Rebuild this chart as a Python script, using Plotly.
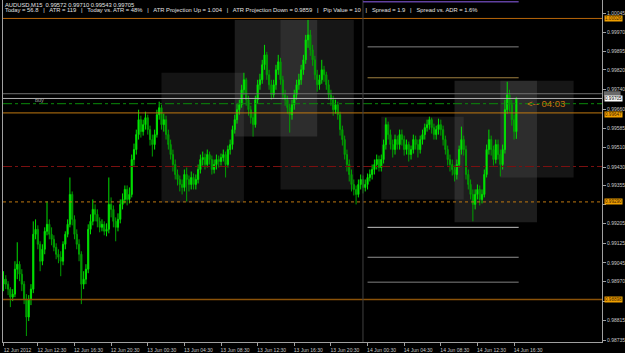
import plotly.graph_objects as go
import pandas as pd

symbol_header = "AUDUSD,M15  0.99572 0.99710 0.99543 0.99705"
info_line = ("Today = 56.8   |   ATR = 119   |   Today vs. ATR = 48%   |   ATR Projection Up = 1.004   |   "
             "ATR Projection Down = 0.9859   |   Pip Value = 10   |   Spread = 1.9   |   Spread vs. ADR = 1.6%")

first_bar = "2012-06-12 08:45"

open_ = [
0.98960,0.98980,0.98960,0.98940,0.98908,0.98920,0.99020,0.99040,0.99000,0.98960,
0.98900,0.98828,0.98900,0.98940,0.99160,0.99180,0.99120,0.99052,0.99100,0.99172,
0.99200,0.99160,0.99140,0.99108,0.99080,0.99068,0.99052,0.99120,0.99160,0.99200,
0.99320,0.99220,0.99160,0.99120,0.99080,0.98960,0.98980,0.99020,0.99180,0.99212,
0.99260,0.99240,0.99212,0.99188,0.99200,0.99172,0.99180,0.99280,0.99260,0.99212,
0.99188,0.99220,0.99280,0.99300,0.99340,0.99300,0.99320,0.99460,0.99500,0.99560,
0.99620,0.99572,0.99600,0.99628,0.99580,0.99540,0.99520,0.99560,0.99640,0.99668,
0.99600,0.99620,0.99560,0.99520,0.99480,0.99440,0.99400,0.99380,0.99360,0.99348,
0.99400,0.99380,0.99360,0.99388,0.99360,0.99380,0.99420,0.99460,0.99468,0.99440,
0.99480,0.99460,0.99420,0.99440,0.99460,0.99452,0.99468,0.99480,0.99440,0.99500,
0.99520,0.99580,0.99620,0.99660,0.99680,0.99740,0.99780,0.99700,0.99660,0.99628,
0.99600,0.99700,0.99760,0.99780,0.99840,0.99880,0.99800,0.99760,0.99720,0.99760,
0.99820,0.99852,0.99780,0.99720,0.99700,0.99668,0.99640,0.99680,0.99720,0.99760,
0.99780,0.99820,0.99860,0.99940,0.99960,0.99900,0.99860,0.99800,0.99760,0.99780,
0.99820,0.99800,0.99760,0.99720,0.99700,0.99660,0.99680,0.99640,0.99580,0.99540,
0.99480,0.99440,0.99400,0.99360,0.99340,0.99320,0.99360,0.99380,0.99348,0.99360,
0.99388,0.99400,0.99420,0.99440,0.99460,0.99428,0.99460,0.99520,0.99600,0.99560,
0.99520,0.99500,0.99540,0.99520,0.99560,0.99540,0.99500,0.99520,0.99480,0.99500,
0.99540,0.99520,0.99500,0.99540,0.99560,0.99588,0.99600,0.99620,0.99588,0.99560,
0.99580,0.99600,0.99580,0.99540,0.99500,0.99460,0.99440,0.99420,0.99400,0.99440,
0.99500,0.99540,0.99500,0.99400,0.99360,0.99320,0.99280,0.99320,0.99340,0.99300,
0.99320,0.99400,0.99500,0.99540,0.99500,0.99460,0.99520,0.99480,0.99440,0.99500,
0.99660,0.99720,0.99680,0.99620,0.99572]

high = [
0.99012,0.98996,0.98972,0.98948,0.98940,0.99052,0.99128,0.99052,0.99020,0.98972,
0.98920,0.98916,0.98960,0.99212,0.99220,0.99196,0.99132,0.99120,0.99188,0.99292,
0.99220,0.99188,0.99156,0.99124,0.99100,0.99092,0.99132,0.99172,0.99220,0.99388,
0.99332,0.99236,0.99180,0.99140,0.99092,0.99012,0.99040,0.99200,0.99240,0.99300,
0.99280,0.99260,0.99228,0.99220,0.99212,0.99204,0.99388,0.99308,0.99276,0.99228,
0.99244,0.99300,0.99324,0.99356,0.99356,0.99348,0.99480,0.99524,0.99580,0.99660,
0.99636,0.99620,0.99652,0.99640,0.99596,0.99560,0.99580,0.99660,0.99692,0.99680,
0.99644,0.99636,0.99580,0.99540,0.99500,0.99460,0.99420,0.99396,0.99380,0.99420,
0.99428,0.99396,0.99412,0.99404,0.99400,0.99440,0.99480,0.99492,0.99484,0.99500,
0.99492,0.99476,0.99460,0.99480,0.99476,0.99484,0.99500,0.99492,0.99516,0.99540,
0.99596,0.99640,0.99684,0.99700,0.99760,0.99808,0.99788,0.99716,0.99676,0.99644,
0.99716,0.99780,0.99804,0.99860,0.99920,0.99892,0.99820,0.99780,0.99780,0.99840,
0.99880,0.99868,0.99796,0.99740,0.99716,0.99684,0.99700,0.99740,0.99780,0.99804,
0.99840,0.99880,0.99960,1.00020,0.99980,0.99920,0.99876,0.99820,0.99800,0.99860,
0.99836,0.99812,0.99780,0.99740,0.99716,0.99700,0.99692,0.99652,0.99596,0.99556,
0.99500,0.99460,0.99420,0.99380,0.99356,0.99380,0.99400,0.99396,0.99380,0.99404,
0.99420,0.99440,0.99460,0.99480,0.99476,0.99480,0.99540,0.99628,0.99612,0.99580,
0.99540,0.99560,0.99556,0.99580,0.99580,0.99556,0.99540,0.99532,0.99516,0.99560,
0.99556,0.99540,0.99556,0.99580,0.99604,0.99620,0.99632,0.99628,0.99604,0.99596,
0.99624,0.99620,0.99596,0.99556,0.99516,0.99480,0.99460,0.99436,0.99460,0.99516,
0.99592,0.99556,0.99516,0.99420,0.99380,0.99340,0.99340,0.99360,0.99356,0.99340,
0.99420,0.99520,0.99580,0.99556,0.99516,0.99540,0.99540,0.99500,0.99520,0.99700,
0.99772,0.99740,0.99700,0.99640,0.99710]

low = [
0.98932,0.98940,0.98916,0.98868,0.98892,0.98908,0.98980,0.98972,0.98932,0.98880,
0.98752,0.98812,0.98876,0.98924,0.99140,0.99100,0.99012,0.99036,0.99080,0.99156,
0.99140,0.99116,0.99092,0.99060,0.99044,0.98992,0.99036,0.99100,0.99148,0.99188,
0.99196,0.99140,0.99100,0.99052,0.98880,0.98940,0.98960,0.99004,0.99160,0.99196,
0.99212,0.99188,0.99168,0.99172,0.99156,0.99152,0.99164,0.99228,0.99188,0.99132,
0.99172,0.99204,0.99260,0.99284,0.99276,0.99284,0.99308,0.99436,0.99480,0.99540,
0.99548,0.99556,0.99580,0.99560,0.99516,0.99472,0.99500,0.99548,0.99620,0.99580,
0.99572,0.99540,0.99500,0.99460,0.99412,0.99380,0.99356,0.99332,0.99320,0.99332,
0.99292,0.99332,0.99340,0.99340,0.99340,0.99364,0.99404,0.99436,0.99420,0.99428,
0.99440,0.99400,0.99404,0.99420,0.99428,0.99436,0.99452,0.99388,0.99428,0.99480,
0.99500,0.99564,0.99604,0.99640,0.99668,0.99720,0.99676,0.99636,0.99604,0.99552,
0.99588,0.99684,0.99740,0.99764,0.99820,0.99780,0.99740,0.99700,0.99708,0.99740,
0.99800,0.99760,0.99700,0.99676,0.99644,0.99568,0.99620,0.99660,0.99700,0.99740,
0.99760,0.99800,0.99844,0.99908,0.99876,0.99836,0.99780,0.99732,0.99740,0.99764,
0.99772,0.99740,0.99700,0.99676,0.99636,0.99644,0.99620,0.99556,0.99516,0.99460,
0.99412,0.99372,0.99332,0.99316,0.99280,0.99308,0.99340,0.99324,0.99332,0.99340,
0.99372,0.99380,0.99400,0.99420,0.99412,0.99412,0.99444,0.99500,0.99540,0.99500,
0.99468,0.99480,0.99500,0.99500,0.99516,0.99476,0.99480,0.99452,0.99460,0.99484,
0.99500,0.99468,0.99484,0.99520,0.99540,0.99572,0.99580,0.99564,0.99540,0.99540,
0.99560,0.99556,0.99516,0.99480,0.99436,0.99412,0.99396,0.99372,0.99380,0.99428,
0.99480,0.99476,0.99380,0.99340,0.99300,0.99212,0.99260,0.99300,0.99276,0.99284,
0.99308,0.99388,0.99480,0.99476,0.99436,0.99444,0.99460,0.99392,0.99420,0.99484,
0.99644,0.99652,0.99596,0.99540,0.99543]

close = [
0.98980,0.98960,0.98940,0.98908,0.98920,0.99020,0.99040,0.99000,0.98960,0.98900,
0.98828,0.98900,0.98940,0.99160,0.99180,0.99120,0.99052,0.99100,0.99172,0.99200,
0.99160,0.99140,0.99108,0.99080,0.99068,0.99052,0.99120,0.99160,0.99200,0.99320,
0.99220,0.99160,0.99120,0.99080,0.98960,0.98980,0.99020,0.99180,0.99212,0.99260,
0.99240,0.99212,0.99188,0.99200,0.99172,0.99180,0.99280,0.99260,0.99212,0.99188,
0.99220,0.99280,0.99300,0.99340,0.99300,0.99320,0.99460,0.99500,0.99560,0.99620,
0.99572,0.99600,0.99628,0.99580,0.99540,0.99520,0.99560,0.99640,0.99668,0.99600,
0.99620,0.99560,0.99520,0.99480,0.99440,0.99400,0.99380,0.99360,0.99348,0.99400,
0.99380,0.99360,0.99388,0.99360,0.99380,0.99420,0.99460,0.99468,0.99440,0.99480,
0.99460,0.99420,0.99440,0.99460,0.99452,0.99468,0.99480,0.99440,0.99500,0.99520,
0.99580,0.99620,0.99660,0.99680,0.99740,0.99780,0.99700,0.99660,0.99628,0.99600,
0.99700,0.99760,0.99780,0.99840,0.99880,0.99800,0.99760,0.99720,0.99760,0.99820,
0.99852,0.99780,0.99720,0.99700,0.99668,0.99640,0.99680,0.99720,0.99760,0.99780,
0.99820,0.99860,0.99940,0.99960,0.99900,0.99860,0.99800,0.99760,0.99780,0.99820,
0.99800,0.99760,0.99720,0.99700,0.99660,0.99680,0.99640,0.99580,0.99540,0.99480,
0.99440,0.99400,0.99360,0.99340,0.99320,0.99360,0.99380,0.99348,0.99360,0.99388,
0.99400,0.99420,0.99440,0.99460,0.99428,0.99460,0.99520,0.99600,0.99560,0.99520,
0.99500,0.99540,0.99520,0.99560,0.99540,0.99500,0.99520,0.99480,0.99500,0.99540,
0.99520,0.99500,0.99540,0.99560,0.99588,0.99600,0.99620,0.99588,0.99560,0.99580,
0.99600,0.99580,0.99540,0.99500,0.99460,0.99440,0.99420,0.99400,0.99440,0.99500,
0.99540,0.99500,0.99400,0.99360,0.99320,0.99280,0.99320,0.99340,0.99300,0.99320,
0.99400,0.99500,0.99540,0.99500,0.99460,0.99520,0.99480,0.99440,0.99500,0.99660,
0.99720,0.99680,0.99620,0.99572,0.99705]

# time axis labels
x_tick_times = ["2012-06-12 08:45", "2012-06-12 12:30", "2012-06-12 16:30", "2012-06-12 20:30",
                "2012-06-13 00:30", "2012-06-13 04:30", "2012-06-13 08:30", "2012-06-13 12:30",
                "2012-06-13 16:30", "2012-06-13 20:30", "2012-06-14 00:30", "2012-06-14 04:30",
                "2012-06-14 08:30", "2012-06-14 12:30", "2012-06-14 16:30"]
x_tick_text = ["12 Jun 2012", "12 Jun 12:30", "12 Jun 16:30", "12 Jun 20:30", "13 Jun 00:30",
               "13 Jun 04:30", "13 Jun 08:30", "13 Jun 12:30", "13 Jun 16:30", "13 Jun 20:30",
               "14 Jun 00:30", "14 Jun 04:30", "14 Jun 08:30", "14 Jun 12:30", "14 Jun 16:30"]

# price axis labels (those hidden under highlighted tags are left blank)
y_tick_vals = [1.00045, 0.99970, 0.99895, 0.99820, 0.99740, 0.99660, 0.99585, 0.99510, 0.99430,
               0.99355, 0.99280, 0.99205, 0.99125, 0.99045, 0.98970, 0.98890, 0.98815, 0.98735]
y_tick_text = ["1.00045", "0.99970", "0.99895", "0.99820", "0.99740", "0.99660", "0.99585", "0.99510",
               "0.99430", "0.99355", "", "0.99205", "0.99125", "0.99045", "0.98970", "", "0.98815", "0.98735"]

# session boxes
session_start = ["2012-06-13 02:00", "2012-06-13 10:00", "2012-06-13 15:00",
                 "2012-06-14 02:00", "2012-06-14 10:00", "2012-06-14 15:00"]
session_end = ["2012-06-13 11:00", "2012-06-13 19:00", "2012-06-13 23:00",
               "2012-06-14 11:00", "2012-06-14 19:00", "2012-06-14 23:00"]
session_high = [0.99808, 1.00020, 1.00020, 0.99632, 0.99776, 0.99776]
session_low = [0.99288, 0.99552, 0.99340, 0.99300, 0.99208, 0.99388]
session_fill = ["rgba(110,110,110,0.18)", "rgba(120,120,120,0.24)", "rgba(110,110,110,0.20)",
                "rgba(110,110,110,0.18)", "rgba(120,120,120,0.24)", "rgba(110,110,110,0.20)"]

# full-width horizontal levels
level_price = [1.00026, 0.99724, 0.99705, 0.99684, 0.99647, 0.99432, 0.99290, 0.98898]
level_color = ["#b8660a", "#707070", "#b0b0b0", "#0a8a0a", "#c07810", "#7a1010", "#c07810", "#8a5208"]
level_dash = ["solid", "solid", "solid", "dashdot", "solid", "dashdot", "dot", "solid"]
level_width = [1, 1, 1, 1, 1, 1, 1, 1.5]

# short levels for the current day
pivot_price = [0.99912, 0.99788, 0.99188, 0.99068, 0.98968]
pivot_color = ["#808080", "#a08040", "#c0c0c0", "#909090", "#808080"]
pivot_start = "2012-06-14 00:30"
pivot_end = "2012-06-14 17:00"

# ask price marker on the scale (mostly covered by the bid tag)
ask_price = 0.99724

# highlighted price labels on the right scale
tag_price = [1.00026, 0.99705, 0.99647, 0.99290, 0.98898]
tag_text = ["1.00026", "0.99705", "0.99647", "0.99290", "0.98898"]
tag_bg = ["#f0a000", "#ffffff", "#f0a000", "#f0a000", "#f0a000"]
tag_fg = ["#402000", "#000000", "#402000", "#402000", "#402000"]
tag_nudge = [0, 0, -1.5, 0, 0]

times = pd.date_range(first_bar, periods=len(close), freq="15min")

fig = go.Figure()
fig.add_trace(go.Candlestick(
    x=times, open=open_, high=high, low=low, close=close,
    increasing=dict(line=dict(color="#00e000", width=1), fillcolor="#00ff00"),
    decreasing=dict(line=dict(color="#00a000", width=1), fillcolor="#008a00"),
    whiskerwidth=0, hoverinfo="skip", showlegend=False,
))

shapes = []
for s, e, hi, lo, fc in zip(session_start, session_end, session_high, session_low, session_fill):
    shapes.append(dict(type="rect", xref="x", yref="y", x0=s, x1=e, y0=lo, y1=hi,
                       fillcolor=fc, line=dict(width=0), layer="below"))
for p, c, d, w in zip(level_price, level_color, level_dash, level_width):
    shapes.append(dict(type="line", xref="paper", yref="y", x0=0, x1=1, y0=p, y1=p,
                       line=dict(color=c, width=w, dash=d), layer="above"))
for p, c in zip(pivot_price, pivot_color):
    shapes.append(dict(type="line", xref="x", yref="y", x0=pivot_start, x1=pivot_end, y0=p, y1=p,
                       line=dict(color=c, width=1), layer="above"))
# day separator
shapes.append(dict(type="line", xref="x", yref="paper", x0="2012-06-14 00:00", x1="2012-06-14 00:00",
                   y0=0, y1=1, line=dict(color="#404040", width=1)))
# purple line at top
shapes.append(dict(type="line", xref="x", yref="y", x0="2012-06-14 00:00", x1="2012-06-14 17:00",
                   y0=1.00093, y1=1.00093, line=dict(color="#6040a0", width=1.5)))
# ask marker on the price scale
shapes.append(dict(type="rect", xref="paper", yref="y", x0=1.003, x1=1.031,
                   y0=ask_price - 0.00010, y1=ask_price + 0.00010,
                   fillcolor="#6a6a6a", line=dict(width=0), layer="above"))

annotations = [
    dict(xref="paper", yref="paper", x=0.0, y=1 - 5 / 343, xanchor="left", yanchor="middle",
         text=symbol_header, showarrow=False, font=dict(size=5.8, color="#e0e0e0")),
    dict(xref="paper", yref="paper", x=0.0, y=1 - 10.5 / 343, xanchor="left", yanchor="middle",
         text=info_line, showarrow=False, font=dict(size=5.8, color="#e0e0e0")),
    dict(xref="paper", yref="y", x=30 / 602, y=0.99700, xanchor="left", yanchor="middle",
         text="buy", showarrow=False, font=dict(size=5.5, color="#a0a0a0")),
    dict(xref="paper", yref="y", x=525 / 602, y=0.99684, xanchor="left", yanchor="middle",
         text="<-- 04:03", showarrow=False, font=dict(size=9.5, color="#c87010")),
]
for p, t, bg, fg, nd in zip(tag_price, tag_text, tag_bg, tag_fg, tag_nudge):
    annotations.append(dict(xref="paper", yref="y", x=1.0, y=p, xanchor="left", yanchor="middle",
                            xshift=2, yshift=nd, text=t, showarrow=False, bgcolor=bg, borderpad=0,
                            font=dict(size=4.6, color=fg)))

fig.update_layout(
    width=625, height=353, autosize=False,
    margin=dict(l=3, r=20, t=0, b=10, pad=0),
    paper_bgcolor="#000000", plot_bgcolor="#000000",
    font=dict(family="Liberation Sans, Arial, sans-serif", size=5, color="#c8c8c8"),
    shapes=shapes, annotations=annotations,
    xaxis=dict(type="date", range=["2012-06-12 08:41:42", "2012-06-15 02:06:00"],
               rangeslider=dict(visible=False), showgrid=False, zeroline=False,
               tickmode="array", tickvals=x_tick_times, ticktext=x_tick_text,
               ticks="outside", ticklen=3, tickcolor="#a0a0a0", tickwidth=1,
               ticklabelshift=14, ticklabelstandoff=0,
               showline=True, linecolor="#a0a0a0", linewidth=1,
               tickfont=dict(size=5, color="#c8c8c8")),
    yaxis=dict(range=[0.98728, 1.00100], side="right", showgrid=False, zeroline=False,
               tickmode="array", tickvals=y_tick_vals, ticktext=y_tick_text,
               ticks="outside", ticklen=3, tickcolor="#a0a0a0", tickwidth=1,
               showline=True, linecolor="#a0a0a0", linewidth=1, mirror=True,
               tickfont=dict(size=5, color="#c8c8c8")),
)

fig.write_html("out.html")
